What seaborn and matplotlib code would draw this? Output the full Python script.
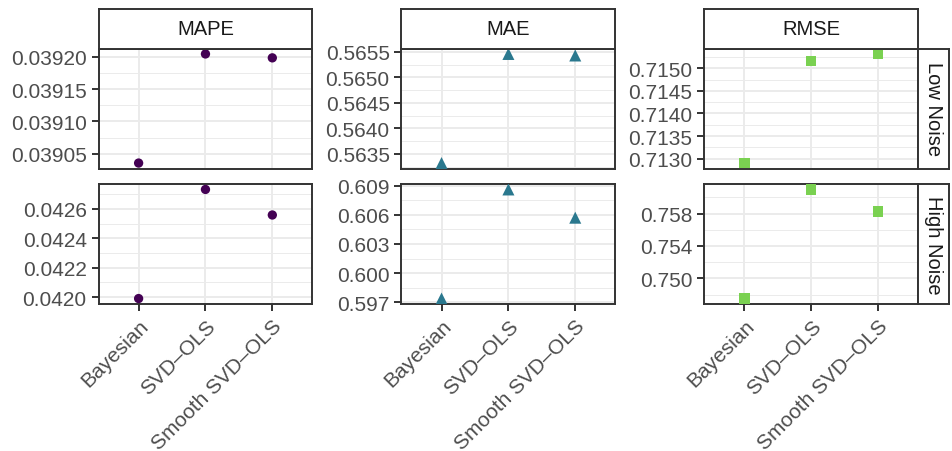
import numpy as np
import pandas as pd
import matplotlib
matplotlib.use("Agg")
import matplotlib.pyplot as plt
from matplotlib.ticker import FixedLocator, FixedFormatter, AutoMinorLocator
import seaborn as sns

# categories
methods = ["Bayesian", "SVD–OLS", "Smooth SVD–OLS"]
metrics = ["MAPE", "MAE", "RMSE"]
noise_levels = ["Low Noise", "High Noise"]

# values (Bayesian, SVD-OLS, Smooth SVD-OLS)
low_mape = [0.039036, 0.039204, 0.039198]
low_mae = [0.56332, 0.56546, 0.56543]
low_rmse = [0.71290, 0.71517, 0.71532]
high_mape = [0.04199, 0.042733, 0.042559]
high_mae = [0.5974, 0.6086, 0.6057]
high_rmse = [0.74751, 0.76098, 0.75825]

# y tick labels per panel
low_mape_ticks = ["0.03905", "0.03910", "0.03915", "0.03920"]
low_mae_ticks = ["0.5635", "0.5640", "0.5645", "0.5650", "0.5655"]
low_rmse_ticks = ["0.7130", "0.7135", "0.7140", "0.7145", "0.7150"]
high_mape_ticks = ["0.0420", "0.0422", "0.0424", "0.0426"]
high_mae_ticks = ["0.597", "0.600", "0.603", "0.606", "0.609"]
high_rmse_ticks = ["0.750", "0.754", "0.758"]

values = {
    ("Low Noise", "MAPE"): low_mape, ("Low Noise", "MAE"): low_mae,
    ("Low Noise", "RMSE"): low_rmse, ("High Noise", "MAPE"): high_mape,
    ("High Noise", "MAE"): high_mae, ("High Noise", "RMSE"): high_rmse,
}
ticks = {
    ("Low Noise", "MAPE"): low_mape_ticks, ("Low Noise", "MAE"): low_mae_ticks,
    ("Low Noise", "RMSE"): low_rmse_ticks, ("High Noise", "MAPE"): high_mape_ticks,
    ("High Noise", "MAE"): high_mae_ticks, ("High Noise", "RMSE"): high_rmse_ticks,
}

rows = []
for (noise, metric), vals in values.items():
    for m, v in zip(methods, vals):
        rows.append({"noise": noise, "metric": metric, "method": m, "value": v})
df = pd.DataFrame(rows)

colors = {"MAPE": "#440154", "MAE": "#2A788E", "RMSE": "#7AD151"}
markers = {"MAPE": "o", "MAE": "^", "RMSE": "s"}
sizes = {"MAPE": 45, "MAE": 75, "RMSE": 55}

sns.set_theme(style="white")
plt.rcParams["font.family"] = ["Liberation Sans", "DejaVu Sans"]

W, H = 952, 452
fig, axes = plt.subplots(2, 3, figsize=(W / 100, H / 100), dpi=100)
fig.subplots_adjust(left=98.5 / W, right=918.3 / W, top=1 - 49.5 / H,
                    bottom=1 - 305 / H, wspace=0.416, hspace=0.129)

dark = "#333333"
for i, noise in enumerate(noise_levels):
    for j, metric in enumerate(metrics):
        ax = axes[i, j]
        sub = df[(df["noise"] == noise) & (df["metric"] == metric)]
        sns.scatterplot(data=sub, x="method", y="value", color=colors[metric],
                        marker=markers[metric], s=sizes[metric],
                        edgecolor="none", linewidth=0, ax=ax, zorder=3)
        lo, hi = sub["value"].min(), sub["value"].max()
        pad = (hi - lo) * 0.05
        ax.set_ylim(lo - pad, hi + pad)
        ax.set_xlim(-0.6, 2.6)
        labs = ticks[(noise, metric)]
        ax.yaxis.set_major_locator(FixedLocator([float(t) for t in labs]))
        ax.yaxis.set_major_formatter(FixedFormatter(labs))
        ax.yaxis.set_minor_locator(AutoMinorLocator(2))
        ax.set_axisbelow(True)
        ax.grid(True, which="major", color="#EBEBEB", linewidth=1.4)
        ax.grid(True, which="minor", axis="y", color="#EBEBEB", linewidth=0.7)
        ax.set_xlabel("")
        ax.set_ylabel("")
        for s in ax.spines.values():
            s.set_color(dark)
            s.set_linewidth(1.4)
        ax.tick_params(axis="both", which="major", length=5, width=1.4,
                       color=dark, labelsize=15, labelcolor="#4D4D4D", pad=3.5)
        ax.tick_params(axis="both", which="minor", length=0)
        ax.tick_params(axis="y", left=True)
        ax.set_xticks(range(len(methods)))
        if i == 0:
            ax.tick_params(axis="x", bottom=False, labelbottom=False)
        else:
            ax.tick_params(axis="x", bottom=True)
            ax.set_xticklabels(methods, rotation=45, ha="right",
                               rotation_mode="anchor")

# facet strips
strip_h = 39.5 / H
strip_w = 31 / W
for j, metric in enumerate(metrics):
    p = axes[0, j].get_position()
    sax = fig.add_axes([p.x0, p.y1, p.width, strip_h])
    sax.set_facecolor("white")
    sax.set_xticks([])
    sax.set_yticks([])
    for s in sax.spines.values():
        s.set_color(dark)
        s.set_linewidth(1.4)
    sax.text(0.5, 0.5, metric, ha="center", va="center", fontsize=14.5,
             color="#1A1A1A", transform=sax.transAxes)
for i, noise in enumerate(noise_levels):
    p = axes[i, 2].get_position()
    sax = fig.add_axes([p.x1, p.y0, strip_w, p.height])
    sax.set_facecolor("white")
    sax.set_xticks([])
    sax.set_yticks([])
    for s in sax.spines.values():
        s.set_color(dark)
        s.set_linewidth(1.4)
    sax.text(0.5, 0.5, noise, ha="center", va="center", fontsize=14.5,
             rotation=-90, color="#1A1A1A", transform=sax.transAxes)

fig.savefig("out.png", dpi=100)
